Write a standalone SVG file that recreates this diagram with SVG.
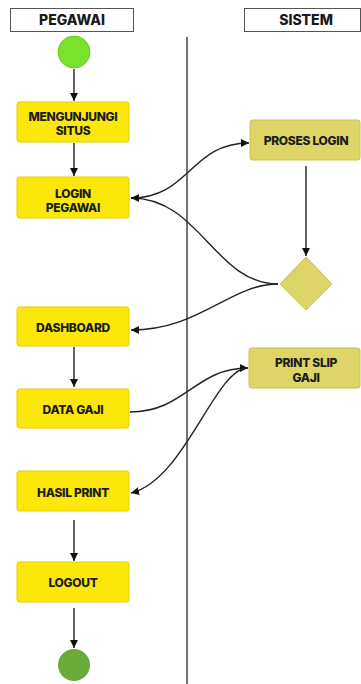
<svg xmlns="http://www.w3.org/2000/svg" width="361" height="684" viewBox="0 0 361 684">
  <style>
    .hdr { fill: #ffffff; stroke: #555555; stroke-width: 1; }
    .hdr-t { font-family: Inter, "Liberation Sans", sans-serif; font-weight: 800; font-size: 14px; fill: #1a1a1a; text-anchor: middle; }
    .act { fill: #fbe80a; stroke: #e2cf00; stroke-width: 1; }
    .sys { fill: #ddd567; stroke: #c9c150; stroke-width: 1; }
    .lbl { font-family: Inter, "Liberation Sans", sans-serif; font-weight: 800; font-size: 12px; fill: #1c1c1c; text-anchor: middle; letter-spacing: -0.3px; }
    .lane { stroke: #444444; stroke-width: 1.5; }
    .edge { fill: none; stroke: #222222; stroke-width: 1.4; marker-end: url(#arrow); }
  </style>
  <defs>
    <marker id="arrow" markerUnits="userSpaceOnUse" markerWidth="8" markerHeight="8" refX="8" refY="4" orient="auto">
      <path d="M0,0 L8,4 L0,8 z" fill="#111111"/>
    </marker>
  </defs>

  <rect width="361" height="684" fill="#ffffff"/>

  <!-- swimlane headers and divider -->
  <g id="lane-pegawai">
    <rect class="hdr" x="10.5" y="8.5" width="123" height="23"/>
    <text class="hdr-t" x="72" y="25">PEGAWAI</text>
  </g>
  <g id="lane-sistem">
    <rect class="hdr" x="244.5" y="8.5" width="116" height="23"/>
    <text class="hdr-t" x="306" y="25">SISTEM</text>
  </g>
  <line class="lane" x1="187" y1="37" x2="187" y2="684"/>

  <!-- connectors -->
  <g id="connectors">
    <path class="edge" d="M74,69 L74,101"/>
    <path class="edge" d="M74,143 L74,176"/>
    <path class="edge" d="M131,198 C190,198 190,143 249,143"/>
    <path class="edge" d="M306,166 L306,256"/>
    <path class="edge" d="M278,284 C215,284 200,198 131,198"/>
    <path class="edge" d="M278,284 C230,284 200,330 131,330"/>
    <path class="edge" d="M74,347 L74,387"/>
    <path class="edge" d="M130,412 C185,412 195,368 248,368"/>
    <path class="edge" d="M248,368 C215,368 185,480 131,493"/>
    <path class="edge" d="M74,520 L74,561"/>
    <path class="edge" d="M74,608 L74,648"/>
  </g>

  <!-- nodes -->
  <g id="start">
    <circle cx="74" cy="52" r="16" fill="#7ae22c" stroke="#5fb81c" stroke-width="0.8"/>
  </g>
  <g id="mengunjungi-situs">
    <rect class="act" x="17" y="102" width="112" height="40" rx="2.5"/>
    <text class="lbl" x="73" y="121">MENGUNJUNGI</text>
    <text class="lbl" x="73" y="135">SITUS</text>
  </g>
  <g id="login-pegawai">
    <rect class="act" x="17" y="177" width="112" height="41" rx="2.5"/>
    <text class="lbl" x="73" y="198">LOGIN</text>
    <text class="lbl" x="73" y="212">PEGAWAI</text>
  </g>
  <g id="proses-login">
    <rect class="sys" x="250" y="120" width="110" height="40" rx="2.5"/>
    <text class="lbl" x="306" y="145">PROSES LOGIN</text>
  </g>
  <g id="decision">
    <polygon points="306,257 332,284 306,310 280,284" fill="#ddd567" stroke="#c9c150" stroke-width="1"/>
  </g>
  <g id="dashboard">
    <rect class="act" x="17" y="307" width="112" height="39" rx="2.5"/>
    <text class="lbl" x="73" y="331.5">DASHBOARD</text>
  </g>
  <g id="data-gaji">
    <rect class="act" x="17" y="389" width="112" height="39" rx="2.5"/>
    <text class="lbl" x="73" y="414">DATA GAJI</text>
  </g>
  <g id="print-slip-gaji">
    <rect class="sys" x="249" y="348" width="111" height="40" rx="2.5"/>
    <text class="lbl" x="306" y="367">PRINT SLIP</text>
    <text class="lbl" x="306" y="382">GAJI</text>
  </g>
  <g id="hasil-print">
    <rect class="act" x="17" y="471" width="112" height="40" rx="2.5"/>
    <text class="lbl" x="73" y="497">HASIL PRINT</text>
  </g>
  <g id="logout">
    <rect class="act" x="17" y="562" width="112" height="40" rx="2.5"/>
    <text class="lbl" x="73" y="587">LOGOUT</text>
  </g>
  <g id="end">
    <circle cx="74" cy="665" r="16" fill="#6aaa3a"/>
  </g>
</svg>
